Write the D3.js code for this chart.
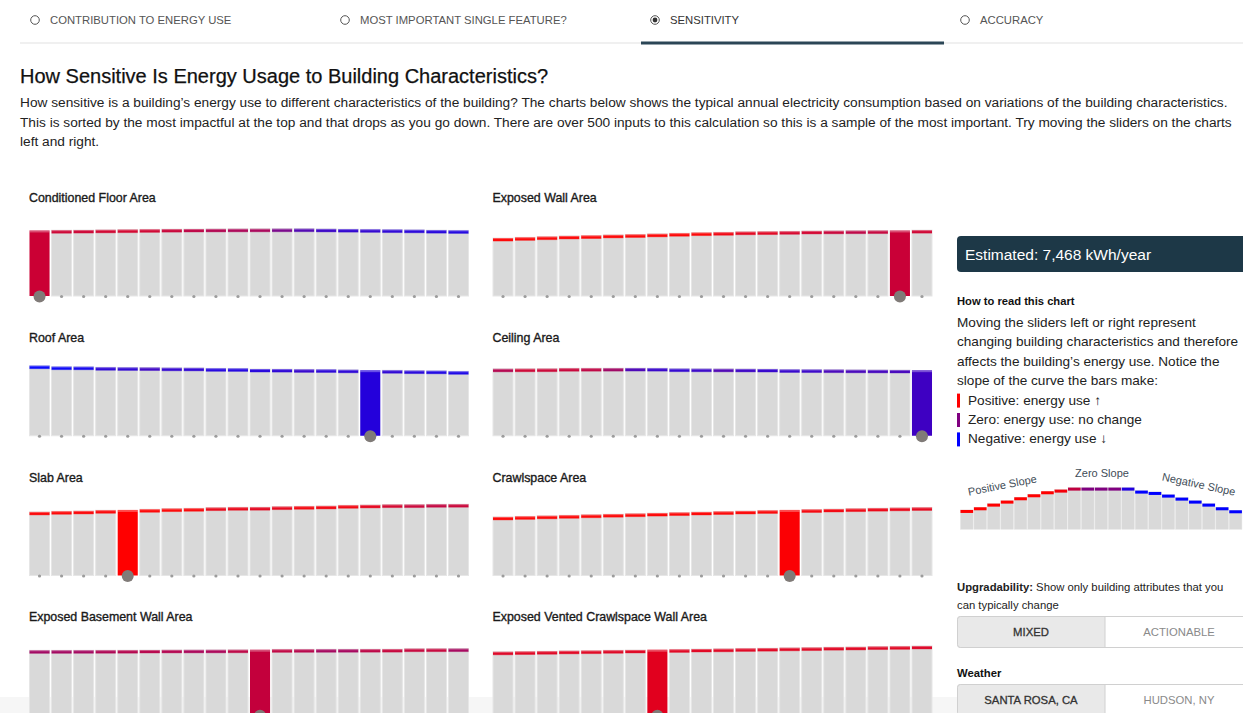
<!DOCTYPE html>
<html><head><meta charset="utf-8">
<script src="https://cdn.jsdelivr.net/npm/d3@7"></script>
<style>
body{margin:0;background:#fff;overflow:hidden}
svg{display:block;font-family:"Liberation Sans",Arial,Helvetica,sans-serif}
</style>
</head><body>
<svg id="c" width="1243" height="713"></svg>
<script>
// ---------- data ----------
const navLabels = ["CONTRIBUTION TO ENERGY USE", "MOST IMPORTANT SINGLE FEATURE?", "SENSITIVITY", "ACCURACY"];
const navActive = 2;
const pageTitle = "How Sensitive Is Energy Usage to Building Characteristics?";
const introLines = [
  "How sensitive is a building\u2019s energy use to different characteristics of the building? The charts below shows the typical annual electricity consumption based on variations of the building characteristics.",
  "This is sorted by the most impactful at the top and that drops as you go down. There are over 500 inputs to this calculation so this is a sample of the most important. Try moving the sliders on the charts",
  "left and right."
];
const chartTitles = ["Conditioned Floor Area", "Exposed Wall Area", "Roof Area", "Ceiling Area",
  "Slab Area", "Crawlspace Area", "Exposed Basement Wall Area", "Exposed Vented Crawlspace Wall Area"];
// annual kWh for each of 20 slider positions
const conditionedFloorArea = [7468, 7490, 7510, 7535, 7560, 7590, 7615, 7630, 7640, 7648, 7652, 7660, 7665, 7640, 7615, 7590, 7565, 7540, 7500, 7470];
const exposedWallArea = [6600, 6680, 6760, 6840, 6890, 6960, 7010, 7080, 7150, 7220, 7260, 7320, 7340, 7370, 7410, 7425, 7440, 7452, 7468, 7500];
const roofArea = [7980, 7870, 7860, 7800, 7780, 7770, 7740, 7730, 7680, 7670, 7600, 7590, 7560, 7550, 7510, 7468, 7460, 7420, 7400, 7340];
const ceilingArea = [7620, 7630, 7640, 7690, 7695, 7700, 7710, 7700, 7640, 7630, 7620, 7610, 7600, 7550, 7540, 7530, 7510, 7500, 7490, 7468];
const slabArea = [7240, 7316, 7354, 7430, 7468, 7544, 7620, 7658, 7734, 7772, 7780, 7848, 7886, 7924, 8000, 8038, 8076, 8080, 8114, 8120];
const crawlspaceArea = [6670, 6735, 6800, 6860, 6925, 6985, 7045, 7110, 7170, 7235, 7290, 7350, 7410, 7468, 7520, 7575, 7620, 7670, 7710, 7750];
const exposedBasementWallArea = [7392, 7395, 7400, 7405, 7410, 7430, 7440, 7445, 7450, 7458, 7468, 7506, 7510, 7515, 7520, 7525, 7530, 7580, 7585, 7590];
const exposedVentedCrawlWallArea = [7225, 7262, 7290, 7335, 7360, 7402, 7433, 7468, 7500, 7545, 7570, 7612, 7640, 7684, 7710, 7755, 7780, 7826, 7850, 7890];
const selectedIndex = [0, 18, 15, 19, 4, 13, 10, 7];
const estimate = 7468;

const readTitle = "How to read this chart";
const readLines = ["Moving the sliders left or right represent", "changing building characteristics and therefore",
  "affects the building\u2019s energy use. Notice the", "slope of the curve the bars make:"];
const legendItems = ["Positive: energy use \u2191", "Zero: energy use: no change", "Negative: energy use \u2193"];
const legendSlopes = [1, 0, -1];
const slopeDemo = [58, 66, 77, 86, 96, 105, 114, 119, 125, 125, 125, 125, 125, 116, 112, 104, 95, 86, 77, 66, 57];
const slopeLabels = ["Positive Slope", "Zero Slope", "Negative Slope"];
const upgradeOptions = ["MIXED", "ACTIONABLE"];
const weatherOptions = ["SANTA ROSA, CA", "HUDSON, NY"];

const series = [conditionedFloorArea, exposedWallArea, roofArea, ceilingArea, slabArea, crawlspaceArea, exposedBasementWallArea, exposedVentedCrawlWallArea];

// ---------- helpers ----------
function slopes(vals, w) {
  return vals.map((v, i) => {
    const lo = Math.max(0, i - w), hi = Math.min(vals.length - 1, i + w);
    let n = 0, sx = 0, sy = 0, sxx = 0, sxy = 0;
    for (let j = lo; j <= hi; j++) { n++; sx += j; sy += vals[j]; sxx += j * j; sxy += j * vals[j]; }
    return (n * sxy - sx * sy) / (n * sxx - sx * sx);
  });
}
const toRed = d3.interpolateRgb("#800080", "#ff0000");
const toBlue = d3.interpolateRgb("#800080", "#0000ff");
function colorFor(t) { t = Math.max(-1, Math.min(1, t)); return t >= 0 ? toRed(t) : toBlue(-t); }
function mainT(s) { return Math.sign(s) * Math.min(1, Math.sqrt(Math.abs(s) / 60)); }

const svg = d3.select("#c");

// bottom band
svg.append("rect").attr("x", 0).attr("y", 697).attr("width", 1243).attr("height", 16).attr("fill", "#f6f6f6");

// ---------- nav ----------
const navX = [35, 345, 655, 965];
svg.append("rect").attr("x", 20).attr("y", 42.5).attr("width", 1223).attr("height", 1).attr("fill", "#e2e2e2");
svg.append("rect").attr("x", 641).attr("y", 41.5).attr("width", 303).attr("height", 3).attr("fill", "#2b4656");
navLabels.forEach((l, i) => {
  const g = svg.append("g");
  g.append("circle").attr("cx", navX[i]).attr("cy", 20).attr("r", 4.3).attr("fill", "none").attr("stroke", "#555").attr("stroke-width", 1);
  if (i === navActive) g.append("circle").attr("cx", navX[i]).attr("cy", 20).attr("r", 2.4).attr("fill", "#333");
  g.append("text").attr("x", navX[i] + 15).attr("y", 24).attr("font-size", 11.3).attr("fill", i === navActive ? "#333" : "#555").text(l);
});

// ---------- title + intro ----------
svg.append("text").attr("x", 20).attr("y", 83).attr("font-size", 20).attr("fill", "#111")
  .attr("stroke", "#111").attr("stroke-width", 0.25).text(pageTitle);
introLines.forEach((l, i) => {
  svg.append("text").attr("x", 20).attr("y", 107 + i * 19.5).attr("font-size", 13.7).attr("fill", "#222").text(l);
});

// ---------- small multiples ----------
const y = d3.scaleLinear().domain([0, 8200]).range([0, 72]);
series.forEach((vals, ci) => {
  const col = ci % 2, row = Math.floor(ci / 2);
  const x0 = col ? 492 : 28.5;
  const bottom = 296 + row * 139.75;
  const x = d3.scaleBand().domain(d3.range(vals.length)).range([x0, x0 + 441]).paddingInner(0.09).paddingOuter(0.045);
  const sl = slopes(vals, 2);
  const sel = selectedIndex[ci];
  const g = svg.append("g");
  g.append("text").attr("x", x0 + 0.5).attr("y", 202 + row * 139.75).attr("font-size", 12.4)
    .attr("fill", "#1a1a1a").attr("stroke", "#1a1a1a").attr("stroke-width", 0.35).text(chartTitles[ci]);
  const bars = g.selectAll("g.bar").data(vals).join("g").attr("class", "bar");
  bars.append("rect")
    .attr("x", (d, i) => x(i)).attr("width", x.bandwidth())
    .attr("y", d => bottom - y(d)).attr("height", d => y(d))
    .attr("fill", (d, i) => i === sel ? colorFor(mainT(sl[i])) : "#d9d9d9")
    .attr("stroke", (d, i) => i === sel ? "none" : "#e6e6e6").attr("stroke-width", 1);
  bars.append("rect")
    .attr("x", (d, i) => x(i)).attr("width", x.bandwidth())
    .attr("y", d => bottom - y(d)).attr("height", 3)
    .attr("fill", (d, i) => colorFor(mainT(sl[i])))
    .attr("opacity", (d, i) => i === sel ? 0 : 0.95);
  bars.append("rect")
    .attr("x", (d, i) => x(i)).attr("width", x.bandwidth())
    .attr("y", d => bottom - y(d)).attr("height", (d, i) => i === sel ? 2 : 1)
    .attr("fill", "#fff").attr("opacity", 0.3);
  bars.append("rect")
    .attr("x", (d, i) => x(i)).attr("width", x.bandwidth())
    .attr("y", d => bottom - y(d) + 2.5).attr("height", 1)
    .attr("fill", (d, i) => colorFor(mainT(sl[i]))).attr("opacity", (d, i) => i === sel ? 0 : 0.35);
  bars.append("circle")
    .attr("cx", (d, i) => x(i) + x.bandwidth() / 2).attr("cy", bottom + 0.5)
    .attr("r", (d, i) => i === sel ? 6 : 1.6)
    .attr("fill", (d, i) => i === sel ? "#807b78" : "#9c9c9c");
});

// ---------- right panel ----------
svg.append("rect").attr("x", 957).attr("y", 236).attr("width", 300).attr("height", 36).attr("rx", 4).attr("fill", "#1d3847");
svg.append("text").attr("x", 965).attr("y", 259.5).attr("font-size", 15.5).attr("fill", "#fff")
  .text("Estimated: " + d3.format(",")(estimate) + " kWh/year");
svg.append("text").attr("x", 957).attr("y", 305).attr("font-size", 11.2).attr("font-weight", "bold").attr("fill", "#111").text(readTitle);
readLines.forEach((l, i) => {
  svg.append("text").attr("x", 957).attr("y", 327 + i * 19.4).attr("font-size", 13.6).attr("fill", "#222").text(l);
});
legendItems.forEach((l, i) => {
  const yy = 327 + (i + 4) * 19.4;
  svg.append("rect").attr("x", 957).attr("y", yy - 11).attr("width", 3).attr("height", 14).attr("fill", colorFor(legendSlopes[i]));
  svg.append("text").attr("x", 968).attr("y", yy).attr("font-size", 13.6).attr("fill", "#222").text(l);
});

// slope demo
const dx = d3.scaleBand().domain(d3.range(slopeDemo.length)).range([960.5, 960.5 + slopeDemo.length * 13.4]).paddingInner(0.06);
const dy = d3.scaleLinear().domain([0, 125]).range([0, 41.7]);
const dBottom = 529.3;
const dsl = slopes(slopeDemo, 1);
const dg = svg.append("g");
dg.selectAll("rect.b").data(slopeDemo).join("rect").attr("class", "b")
  .attr("x", (d, i) => dx(i)).attr("width", dx.bandwidth())
  .attr("y", d => dBottom - dy(d)).attr("height", d => dy(d)).attr("fill", "#d9d9d9").attr("stroke", "#e4e4e4").attr("stroke-width", 0.5);
dg.selectAll("rect.c").data(slopeDemo).join("rect").attr("class", "c")
  .attr("x", (d, i) => dx(i)).attr("width", dx.bandwidth())
  .attr("y", d => dBottom - dy(d)).attr("height", 3)
  .attr("fill", (d, i) => colorFor(dsl[i] / 6));
const labelPos = [[1003, 489, -11], [1102, 477, 0], [1198, 488, 12]];
slopeLabels.forEach((l, i) => {
  svg.append("text").attr("transform", `translate(${labelPos[i][0]},${labelPos[i][1]}) rotate(${labelPos[i][2]})`)
    .attr("text-anchor", "middle").attr("font-size", 11).attr("fill", "#3e4c57").text(l);
});

// upgradability
const up = svg.append("text").attr("x", 957).attr("y", 591).attr("font-size", 11.3).attr("fill", "#222");
up.append("tspan").attr("font-weight", "bold").text("Upgradability:");
up.append("tspan").text(" Show only building attributes that you");
svg.append("text").attr("x", 957).attr("y", 609).attr("font-size", 11.3).attr("fill", "#222").text("can typically change");

function buttonGroup(opts, top) {
  svg.append("rect").attr("x", 957.5).attr("y", top + 0.5).attr("width", 300).attr("height", 31).attr("rx", 3)
    .attr("fill", "#fff").attr("stroke", "#d0d0d0");
  svg.append("path").attr("d", `M960.5,${top + 0.5}H1105V${top + 31.5}H960.5A3,3 0 0 1 957.5,${top + 28.5}V${top + 3.5}A3,3 0 0 1 960.5,${top + 0.5}Z`)
    .attr("fill", "#e9e9e9").attr("stroke", "#d0d0d0");
  opts.forEach((o, i) => {
    svg.append("text").attr("x", i ? 1179 : 1031).attr("y", top + 20).attr("text-anchor", "middle").attr("font-size", 11.3)
      .attr("fill", i ? "#8a8a8a" : "#333").attr("stroke", i ? "none" : "#333").attr("stroke-width", 0.3).text(o);
  });
}
buttonGroup(upgradeOptions, 616);
svg.append("text").attr("x", 957).attr("y", 677).attr("font-size", 11.3).attr("font-weight", "bold").attr("fill", "#111").text("Weather");
buttonGroup(weatherOptions, 684);
</script>
</body></html>
